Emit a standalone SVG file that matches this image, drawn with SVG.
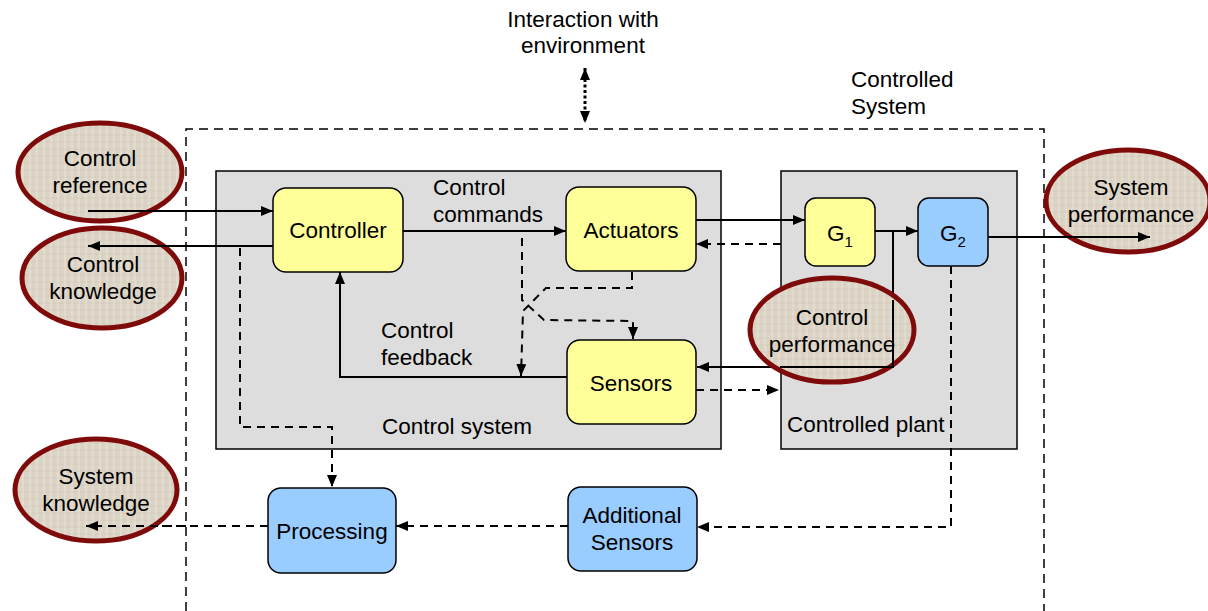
<svg xmlns="http://www.w3.org/2000/svg" width="1208" height="611" viewBox="0 0 1208 611">
  <style>
    text { font-family: "Liberation Sans", Arial, sans-serif; font-size: 22.5px; fill: #000; }
    .mid { text-anchor: middle; }
    .panel { fill: #dddddd; stroke: #000; stroke-width: 1.5; }
    .yellow { fill: #ffff99; stroke: #000; stroke-width: 1.5; }
    .blue { fill: #99ccff; stroke: #000; stroke-width: 1.5; }
    .oval { fill: url(#burlap); stroke: #7f0a0a; stroke-width: 5; }
    .solid { fill: none; stroke: #000; stroke-width: 2; }
    .dash { fill: none; stroke: #000; stroke-width: 2; stroke-dasharray: 8 6; }
    .frame { fill: none; stroke: #000; stroke-width: 1.5; stroke-dasharray: 9 6; }
    .dots { fill: none; stroke: #000; stroke-width: 3; stroke-dasharray: 3 2.5; }
  </style>
  <defs>
    <marker id="arrow" viewBox="0 0 12 10" refX="12" refY="5" markerWidth="12" markerHeight="10" markerUnits="userSpaceOnUse" orient="auto">
      <path d="M0,0 L12,5 L0,10 z" fill="#000"/>
    </marker>
    <marker id="arrowStart" viewBox="0 0 12 10" refX="0" refY="5" markerWidth="12" markerHeight="10" markerUnits="userSpaceOnUse" orient="auto">
      <path d="M12,0 L0,5 L12,10 z" fill="#000"/>
    </marker>
    <!-- woven beige fill for the knowledge/performance ovals -->
    <pattern id="burlap" width="7" height="7" patternUnits="userSpaceOnUse">
      <rect width="7" height="7" fill="#ddd5c7"/>
      <path d="M0,2 H7" stroke="#d0c7b6" stroke-width="0.8"/>
      <path d="M2,0 V7" stroke="#ebe5da" stroke-width="0.8"/>
      <path d="M5,0 V7" stroke="#d3cbba" stroke-width="0.6"/>
    </pattern>
  </defs>

  <!-- controlled system boundary -->
  <g id="controlled-system">
    <path class="frame" d="M186,611 V129 H1044 V611"/>
    <text x="851" y="87">Controlled</text>
    <text x="851" y="114">System</text>
  </g>

  <!-- environment interaction -->
  <g id="environment">
    <text class="mid" x="583" y="27">Interaction with</text>
    <text class="mid" x="583" y="53">environment</text>
    <line class="dots" x1="585" y1="68" x2="585" y2="123" marker-start="url(#arrowStart)" marker-end="url(#arrow)"/>
  </g>

  <!-- subsystem panels -->
  <g id="control-system">
    <rect class="panel" x="216" y="171" width="505" height="278"/>
    <text x="382" y="434">Control system</text>
  </g>
  <g id="controlled-plant">
    <rect class="panel" x="781" y="171" width="236" height="278"/>
    <text x="787" y="432">Controlled plant</text>
  </g>

  <!-- connectors -->
  <g id="connectors">
    <line class="solid" x1="88" y1="211" x2="273" y2="211" marker-end="url(#arrow)"/>
    <line class="solid" x1="273" y1="246" x2="88" y2="246" marker-end="url(#arrow)"/>
    <line class="solid" x1="403" y1="231" x2="566" y2="231" marker-end="url(#arrow)"/>
    <line class="solid" x1="696" y1="220" x2="805" y2="220" marker-end="url(#arrow)"/>
    <line class="solid" x1="875" y1="231" x2="918" y2="231" marker-end="url(#arrow)"/>
    <polyline class="solid" points="893,231 893,367 697,367" marker-end="url(#arrow)"/>
    <line class="solid" x1="988" y1="237" x2="1150" y2="237" marker-end="url(#arrow)"/>
    <polyline class="solid" points="567,377 340,377 340,272" marker-end="url(#arrow)"/>

    <line class="dash" x1="781" y1="244" x2="696" y2="244" marker-end="url(#arrow)"/>
    <polyline class="dash" points="522,238 522,300 544,320 633,321 633,339" marker-end="url(#arrow)"/>
    <polyline class="dash" points="632,272 632,288 546,288 523,311 521,376" marker-end="url(#arrow)"/>
    <line class="dash" x1="696" y1="390" x2="779" y2="390" marker-end="url(#arrow)"/>
    <polyline class="dash" points="951,266 951,527 697,527" marker-end="url(#arrow)"/>
    <line class="dash" x1="568" y1="526" x2="396" y2="526" marker-end="url(#arrow)"/>
    <line class="dash" x1="268" y1="526" x2="86" y2="526" marker-end="url(#arrow)"/>
    <polyline class="dash" points="240,248 240,427 332,427 332,487" marker-end="url(#arrow)"/>

    <text x="433" y="195">Control</text>
    <text x="433" y="222">commands</text>
    <text x="381" y="338">Control</text>
    <text x="381" y="365">feedback</text>
  </g>

  <!-- blocks -->
  <g id="controller">
    <rect class="yellow" x="273" y="188" width="130" height="84" rx="13"/>
    <text class="mid" x="338" y="238">Controller</text>
  </g>
  <g id="actuators">
    <rect class="yellow" x="566" y="187" width="130" height="84" rx="13"/>
    <text class="mid" x="631" y="238">Actuators</text>
  </g>
  <g id="sensors">
    <rect class="yellow" x="567" y="340" width="129" height="84" rx="13"/>
    <text class="mid" x="631" y="391">Sensors</text>
  </g>
  <g id="g1">
    <rect class="yellow" x="805" y="198" width="70" height="68" rx="11"/>
    <text class="mid" x="840" y="241">G<tspan font-size="15" dy="6">1</tspan></text>
  </g>
  <g id="g2">
    <rect class="blue" x="918" y="198" width="70" height="68" rx="11"/>
    <text class="mid" x="953" y="241">G<tspan font-size="15" dy="6">2</tspan></text>
  </g>
  <g id="processing">
    <rect class="blue" x="268" y="488" width="128" height="85" rx="13"/>
    <text class="mid" x="332" y="539">Processing</text>
  </g>
  <g id="additional-sensors">
    <rect class="blue" x="568" y="487" width="129" height="84" rx="13"/>
    <text class="mid" x="632" y="523">Additional</text>
    <text class="mid" x="632" y="550">Sensors</text>
  </g>

  <!-- knowledge / performance ovals -->
  <g id="control-reference">
    <ellipse class="oval" cx="100" cy="172" rx="82" ry="49"/>
    <text class="mid" x="100" y="166">Control</text>
    <text class="mid" x="100" y="193">reference</text>
    <line class="solid" x1="88" y1="211" x2="186" y2="211"/>
  </g>
  <g id="control-knowledge">
    <ellipse class="oval" cx="102" cy="278" rx="80" ry="50"/>
    <text class="mid" x="103" y="272">Control</text>
    <text class="mid" x="103" y="299">knowledge</text>
    <line class="solid" x1="186" y1="246" x2="88" y2="246" marker-end="url(#arrow)"/>
  </g>
  <g id="system-knowledge">
    <ellipse class="oval" cx="96" cy="490" rx="81" ry="51"/>
    <text class="mid" x="96" y="484">System</text>
    <text class="mid" x="96" y="511">knowledge</text>
    <line class="dash" x1="186" y1="526" x2="86" y2="526" marker-end="url(#arrow)"/>
  </g>
  <g id="system-performance">
    <ellipse class="oval" cx="1128" cy="201" rx="82" ry="51"/>
    <text class="mid" x="1131" y="195">System</text>
    <text class="mid" x="1131" y="222">performance</text>
    <line class="solid" x1="1044" y1="237" x2="1150" y2="237" marker-end="url(#arrow)"/>
  </g>
  <g id="control-performance">
    <ellipse class="oval" cx="832" cy="330" rx="82" ry="52"/>
    <text class="mid" x="832" y="325">Control</text>
    <text class="mid" x="832" y="352">performance</text>
    <polyline class="solid" points="893,300 893,367 780,367"/>
  </g>
</svg>
